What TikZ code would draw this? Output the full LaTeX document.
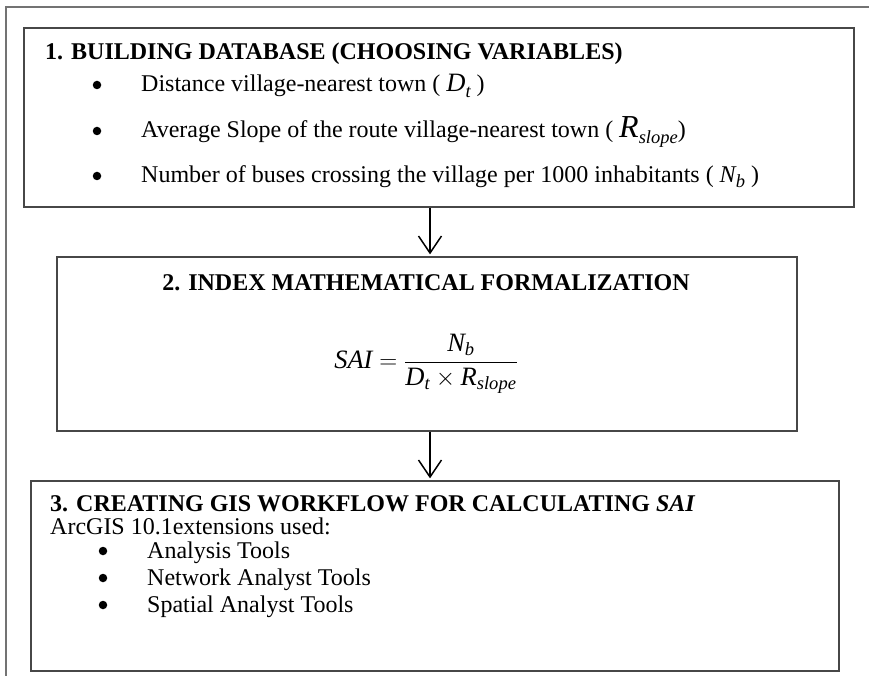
\documentclass[tikz,border=0pt]{standalone}
\usepackage{fontspec}
\setmainfont{Liberation Serif}
\usepackage{amsmath}
\usetikzlibrary{arrows.meta}
\newcommand\fsz{\fontsize{24}{28}\selectfont}
\newcommand\mysub[2][5]{\raisebox{-#1pt}{\fontsize{18.5}{18.5}\selectfont\itshape #2}}
\begin{document}
\begin{tikzpicture}[x=1pt,y=-1pt,
  box/.style={draw=black!72, line width=1.3pt, minimum width=#1, inner sep=0pt},
  framel/.style={draw=black!55, line width=1.3pt},
  txt/.style={anchor=base west, inner sep=0pt, font=\fsz},
  bulletdot/.style={circle, fill=black, inner sep=0pt, minimum size=8.5pt},
  flow/.style={line width=1.5pt, shorten >=2pt, -{Straight Barb[length=17pt,width=23pt]}}]
\useasboundingbox (0,0) rectangle (869,676);
\draw[framel] (869,7) -- (6,7) -- (6,676);
% boxes
\node[box=830pt, minimum height=179pt] (b1) at (439,117.5) {};
\node[box=740pt, minimum height=174pt] (b2) at (427,344) {};
\node[box=808pt, minimum height=190pt] (b3) at (435,576) {};
% arrows
\coordinate (ax) at (430,0);
\draw[flow] (b1.south -| ax) -- (b2.north -| ax);
\draw[flow] (b2.south -| ax) -- (b3.north -| ax);
% box 1 text
\node[txt, font=\fsz\bfseries] (t1) at (45,60) {1. BUILDING DATABASE (CHOOSING VARIABLES)};
\node[bulletdot] (u11) at (97,85) {};
\node[txt] (l11) at (141,92) {Distance village-nearest town ( {\fontsize{26.5}{26.5}\selectfont\itshape D}\mysub[6]{t} )};
\node[bulletdot] (u12) at (97,131) {};
\node[txt] (l12) at (141,138) {Average Slope of the route village-nearest town ( {\fontsize{32}{32}\selectfont\itshape R}\mysub[6]{slope})};
\node[bulletdot] (u13) at (97,176) {};
\node[txt] (l13) at (141,183) {Number of buses crossing the village per 1000 inhabitants ( {\itshape N}\mysub{b} )};
% box 2 text
\node[anchor=base, inner sep=0pt, font=\fsz\bfseries] (t2) at (426,290) {2. INDEX MATHEMATICAL FORMALIZATION};
\node[inner sep=0pt, font=\fontsize{26.5}{30}\selectfont] (f2) at (426,364) {$\textit{SAI} = \dfrac{\textit{N}_{\textit{b}}}{\textit{D}_{\textit{t}}\times\textit{R}_{\textit{slope}}}$};
% box 3 text
\node[txt, font=\fsz\bfseries] (t3) at (50,511) {3. CREATING GIS WORKFLOW FOR CALCULATING \textit{SAI}};
\node[txt] (a3) at (50,534) {ArcGIS 10.1extensions used:};
\node[bulletdot] (u31) at (103,551) {};
\node[txt] (l31) at (147,558) {Analysis Tools};
\node[bulletdot] (u32) at (103,578) {};
\node[txt] (l32) at (147,585) {Network Analyst Tools};
\node[bulletdot] (u33) at (103,605) {};
\node[txt] (l33) at (147,612) {Spatial Analyst Tools};
\end{tikzpicture}
\end{document}
